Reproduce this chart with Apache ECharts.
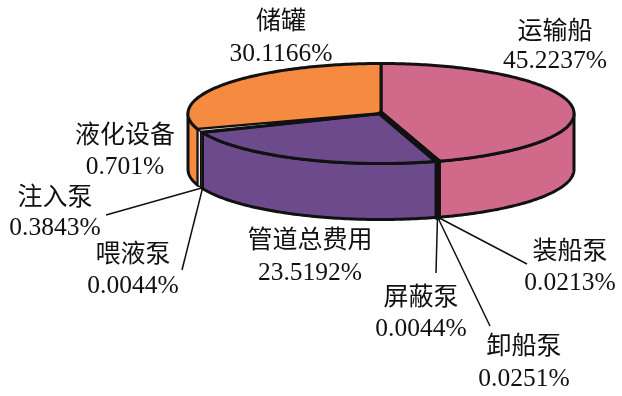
<!DOCTYPE html>
<html>
<head>
<meta charset="utf-8">
<style>
  html, body { margin: 0; padding: 0; background: #fff; }
  #main { width: 622px; height: 396px; }
</style>
<script src="https://cdn.jsdelivr.net/npm/echarts@6/dist/echarts.min.js"></script>
</head>
<body>
<div id="main"></div>
<script>
// clockwise from 12 o'clock
const names = ['运输船', '装船泵', '卸船泵', '屏蔽泵', '管道总费用', '喂液泵', '注入泵', '液化设备', '储罐']
const values = [45.2237, 0.0213, 0.0251, 0.0044, 23.5192, 0.0044, 0.3843, 0.701, 30.1166]

// layout only
const colors = ['#D1698B', '#111111', '#111111', '#111111', '#6C4A8C', '#111111', '#B9B9B9', '#EDEDED', '#F58A41']
const seamWidth = [3, 5.5, 5.5, 5.5, 3, 2.5, 1.5, 1.5, 3]
const labelPos = [
  [555, 32, 61], [570, 252, 283], [524, 347, 379], [421, 298, 329], [310, 241, 273],
  [133, 255, 286], [55, 198, 228], [125, 136, 167], [281, 22, 54]
]
const leaderEnd = [null, [527, 264], [490, 326], [436, 273], null, [182, 270], [106, 215], null, null]
const cx = 381
const cy = 113.5
const rx = 193
const ry = 50
const depth = 56

const total = values.reduce((a, b) => a + b, 0)
const starts = []
values.reduce((sum, v, i) => {
  starts[i] = sum
  return sum + v
}, 0)

function toAngle (v) {
  return v / total * Math.PI * 2
}

function rim (angle, drop) {
  return [cx + rx * Math.sin(angle), cy + drop - ry * Math.cos(angle)]
}

function arc (from, to, drop) {
  const steps = Math.max(2, Math.ceil((to - from) * 60))
  const pts = []
  for (let i = 0; i <= steps; i++) {
    pts.push(rim(from + (to - from) * i / steps, drop))
  }
  return pts
}

function renderSlice (params, api) {
  const i = api.value(0)
  const a0 = toAngle(starts[i])
  const a1 = toAngle(starts[i] + api.value(1))
  const tiny = api.value(1) < 1
  const z2 = tiny ? 10 : 1
  const style = { fill: colors[i], stroke: '#111', lineWidth: seamWidth[i], lineJoin: 'round' }
  const children = []

  // only the front half of the rim shows a wall
  const w0 = Math.max(a0, Math.PI / 2)
  const w1 = Math.min(a1, Math.PI * 1.5)
  if (w1 > w0) {
    children.push({
      type: 'polygon',
      z2,
      shape: { points: arc(w0, w1, 0).concat(arc(w0, w1, depth).reverse()) },
      style
    })
  }
  children.push({
    type: 'polygon',
    z2,
    shape: { points: [[cx, cy]].concat(arc(a0, a1, 0)) },
    style
  })

  if (leaderEnd[i]) {
    children.push({
      type: 'line',
      z2: 20,
      shape: {
        x1: rim((a0 + a1) / 2, depth)[0],
        y1: rim((a0 + a1) / 2, depth)[1],
        x2: leaderEnd[i][0],
        y2: leaderEnd[i][1]
      },
      style: { stroke: '#111', lineWidth: 1.5 }
    })
  }

  const font = '"Liberation Serif", "Noto Sans CJK SC", serif'
  children.push({
    type: 'text',
    z2: 30,
    style: {
      text: names[i],
      x: labelPos[i][0],
      y: labelPos[i][1],
      fill: '#111',
      font: '25px ' + font,
      align: 'center',
      verticalAlign: 'middle'
    }
  })
  children.push({
    type: 'text',
    z2: 30,
    style: {
      text: values[i] + '%',
      x: labelPos[i][0],
      y: labelPos[i][2],
      fill: '#111',
      font: '25.5px ' + font,
      align: 'center',
      verticalAlign: 'middle'
    }
  })
  return { type: 'group', children }
}

const chart = echarts.init(document.getElementById('main'), null, { renderer: 'canvas' })
chart.setOption({
  animation: false,
  backgroundColor: '#fff',
  series: [{
    type: 'custom',
    coordinateSystem: 'none',
    renderItem: renderSlice,
    encode: { value: [1] },
    data: values.map((v, i) => [i, v])
  }]
})
</script>
</body>
</html>
